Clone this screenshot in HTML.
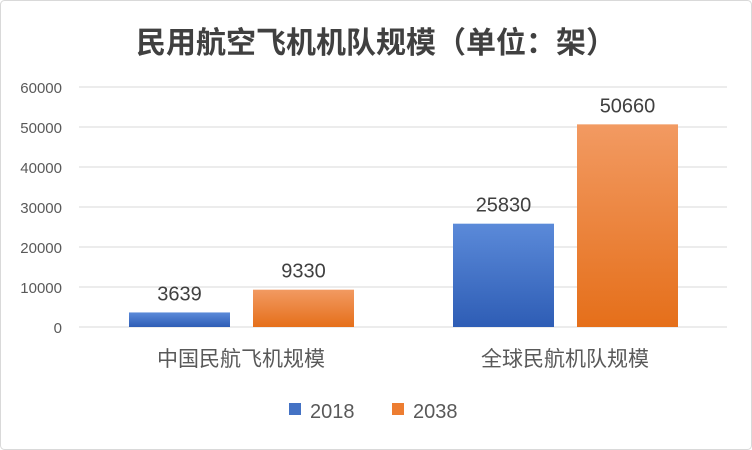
<!DOCTYPE html>
<html><head><meta charset="utf-8"><style>
body{margin:0;background:#fff;}
svg{display:block;font-family:"Liberation Sans","Noto Sans CJK SC",sans-serif;}
</style></head><body>
<svg width="752" height="450" viewBox="0 0 752 450">
<defs>
<linearGradient id="gb" x1="0" y1="0" x2="0" y2="1"><stop offset="0" stop-color="#5b8ad9"/><stop offset="1" stop-color="#2e5db5"/></linearGradient>
<linearGradient id="go" x1="0" y1="0" x2="0" y2="1"><stop offset="0" stop-color="#f29a62"/><stop offset="1" stop-color="#e56f1a"/></linearGradient>
</defs>
<rect x="0.5" y="0.5" width="751" height="449" rx="4" fill="#fff" stroke="#d9d9d9"/>
<text x="376" y="53" text-anchor="middle" font-size="30" font-weight="bold" fill="#404040" font-family="'Noto Sans CJK SC',sans-serif">民用航空飞机机队规模（单位：架）</text>
<g id="grid"></g><g id="bars"></g>
<g>
<rect x="289" y="403" width="12" height="12" fill="#4472c4"/>
<text x="310" y="418" font-size="20" fill="#595959">2018</text>
<rect x="392" y="403" width="12" height="12" fill="#ed7d31"/>
<text x="413" y="418" font-size="20" fill="#595959">2038</text>
</g>
</svg>
<script>
const categories=["中国民航飞机规模","全球民航机队规模"];
const series2018=[3639,25830];
const series2038=[9330,50660];
const yTicks=[0,10000,20000,30000,40000,50000,60000];
const NS="http://www.w3.org/2000/svg";
const y0=327,yMax=60000,pxH=240,x0=79,catW=324;
const y=v=>y0-v/yMax*pxH;
function mk(tag,attrs,parent,txt){const e=document.createElementNS(NS,tag);for(const k in attrs)e.setAttribute(k,attrs[k]);if(txt!==undefined)e.textContent=txt;parent.appendChild(e);return e;}
const grid=document.getElementById('grid'),bars=document.getElementById('bars');
yTicks.forEach(t=>{
  const l=mk('line',{x1:x0,x2:x0+2*catW,y1:y(t),y2:y(t),stroke:'#d9d9d9','stroke-width':1},grid);
  
  
  const tx=mk('text',{x:62,y:y(t)+6,'text-anchor':'end','font-size':15,fill:'#595959'},grid,String(t));
  
  
});
const bw=101;
categories.forEach((c,i)=>{
  const cx=x0+catW*i+catW/2;
  [[series2018,'url(#gb)',cx-112,'2018'],[series2038,'url(#go)',cx+12,'2038']].forEach(([s,f,bx,n])=>{
    const v=s[i];
    const r=mk('rect',{x:bx,y:y(v),width:bw,height:y0-y(v),fill:f},bars);
    
    
    const t=mk('text',{x:bx+bw/2,y:y(v)-12,'text-anchor':'middle','font-size':20,fill:'#404040'},bars,String(v));
    
    
  });
  const ct=mk('text',{x:cx,y:366,'text-anchor':'middle','font-size':21,fill:'#595959'},bars,c);
  
  
});
</script>
</body></html>
